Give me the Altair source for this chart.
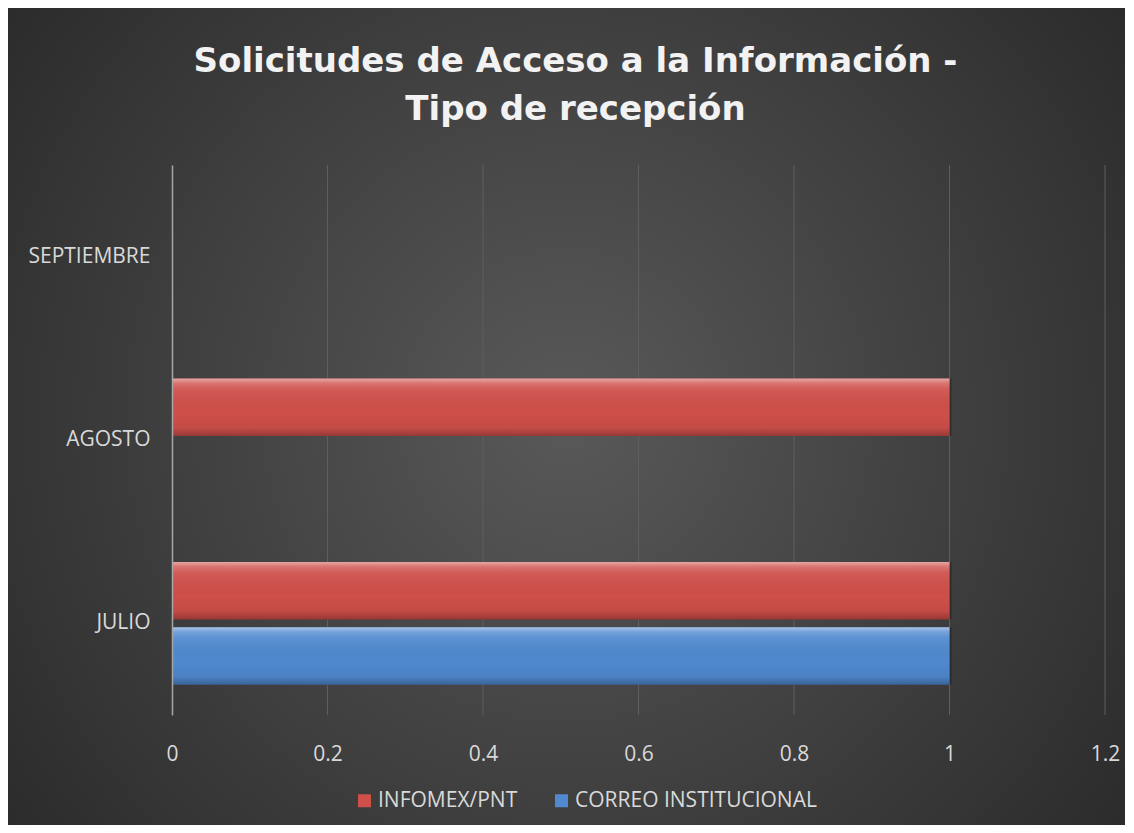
import altair as alt
import pandas as pd

# ---- data ----
meses = ["JULIO", "AGOSTO", "SEPTIEMBRE"]
infomex = [1, 1, 0]
correo = [1, 0, 0]
series_order = ["INFOMEX/PNT", "CORREO INSTITUCIONAL"]
x_ticks = [0, 0.2, 0.4, 0.6, 0.8, 1.0, 1.2]
y_order = ["SEPTIEMBRE", "AGOSTO", "JULIO"]

rows = []
for m, a, b in zip(meses, infomex, correo):
    rows.append({"mes": m, "tipo": series_order[0], "valor": a})
    rows.append({"mes": m, "tipo": series_order[1], "valor": b})
df = pd.DataFrame(rows)
grid_df = pd.DataFrame({"valor": x_ticks[1:]})

W, H = 933, 550
PL, PT, PR, PB = 164, 157, 20, 110
FONT = "Open Sans"
LABEL_COLOR = "#d9d9d9"
LABEL_SIZE = 21

bg_grad = {
    "gradient": "radial",
    "x1": 0.5, "y1": 0.5, "r1": 0,
    "x2": 0.5, "y2": 0.5, "r2": 0.72,
    "stops": [
        {"offset": 0, "color": "#595959"},
        {"offset": 1, "color": "#242424"},
    ],
}

bevel = {
    "gradient": "linear",
    "x1": 0, "y1": 0, "x2": 0, "y2": 1,
    "stops": [
        {"offset": 0, "color": "rgba(255,255,255,0.50)"},
        {"offset": 0.08, "color": "rgba(255,255,255,0.22)"},
        {"offset": 0.18, "color": "rgba(255,255,255,0.08)"},
        {"offset": 0.6, "color": "rgba(0,0,0,0.0)"},
        {"offset": 0.86, "color": "rgba(0,0,0,0.06)"},
        {"offset": 1, "color": "rgba(0,0,0,0.28)"},
    ],
}

x_enc = alt.X(
    "valor:Q",
    scale=alt.Scale(domain=[0, 1.2], nice=False),
    axis=alt.Axis(
        values=x_ticks, format="~g", title=None, grid=False, domain=False,
        ticks=False, labelPadding=28, labelFontSize=LABEL_SIZE,
        labelColor=LABEL_COLOR, labelFont=FONT, labelFlush=False, zindex=1,
    ),
)
y_enc = alt.Y(
    "mes:N",
    sort=y_order,
    scale=alt.Scale(domain=y_order, paddingInner=0.33, paddingOuter=0.165),
    axis=alt.Axis(
        title=None, ticks=False, domainColor="#a6a6a6", domainWidth=1.5,
        labelPadding=22, labelFontSize=LABEL_SIZE, labelColor=LABEL_COLOR,
        labelFont=FONT, zindex=1,
    ),
)
yoff_enc = alt.YOffset(
    "tipo:N", sort=series_order,
    scale=alt.Scale(domain=series_order, paddingInner=0.12),
)

bg = alt.Chart(pd.DataFrame({"k": [0]})).mark_rect(fill=bg_grad).encode(
    x=alt.value(-PL), x2=alt.value(W + PR), y=alt.value(-PT), y2=alt.value(H + PB)
)

grid = alt.Chart(grid_df).mark_rule(color="#5e5e5e", strokeWidth=1).encode(
    x=x_enc, y=alt.value(0), y2=alt.value(H)
)

shadow = alt.Chart(df).transform_filter("datum.valor > 0").mark_bar(
    color="#000000", opacity=0.28, yOffset=3, xOffset=2
).encode(x=x_enc, y=y_enc, yOffset=yoff_enc)

bars = alt.Chart(df).mark_bar().encode(
    x=x_enc,
    y=y_enc,
    yOffset=yoff_enc,
    color=alt.Color(
        "tipo:N",
        sort=series_order,
        scale=alt.Scale(domain=series_order, range=["#cf4f4a", "#5089cf"]),
        legend=alt.Legend(
            title=None, orient="none", legendX=182, legendY=625,
            direction="horizontal", symbolType="square", symbolSize=169,
            symbolStrokeWidth=0, labelFontSize=LABEL_SIZE,
            labelColor=LABEL_COLOR, labelFont=FONT, columnPadding=33,
            labelOffset=3, labelLimit=400, zindex=1,
        ),
    ),
)

overlay = alt.Chart(df).mark_bar(fill=bevel).encode(
    x=x_enc, y=y_enc, yOffset=yoff_enc
)

chart = alt.layer(bg, grid, shadow, bars, overlay).properties(
    width=W,
    height=H,
    padding={"left": PL, "top": PT, "right": PR, "bottom": PB},
    autosize=alt.AutoSizeParams(type="none"),
    background="#333333",
    title=alt.Title(
        ["Solicitudes de Acceso a la Información -", "Tipo de recepción"],
        fontSize=34, font="DejaVu Sans", fontWeight="bold", color="#f2f2f2",
        lineHeight=48, anchor="middle", frame="group", dx=-63, offset=0,
        dy=119, zindex=1,
    ),
).configure_view(stroke=None)

chart.save("out.html", embed_options={"renderer": "svg", "actions": False})
